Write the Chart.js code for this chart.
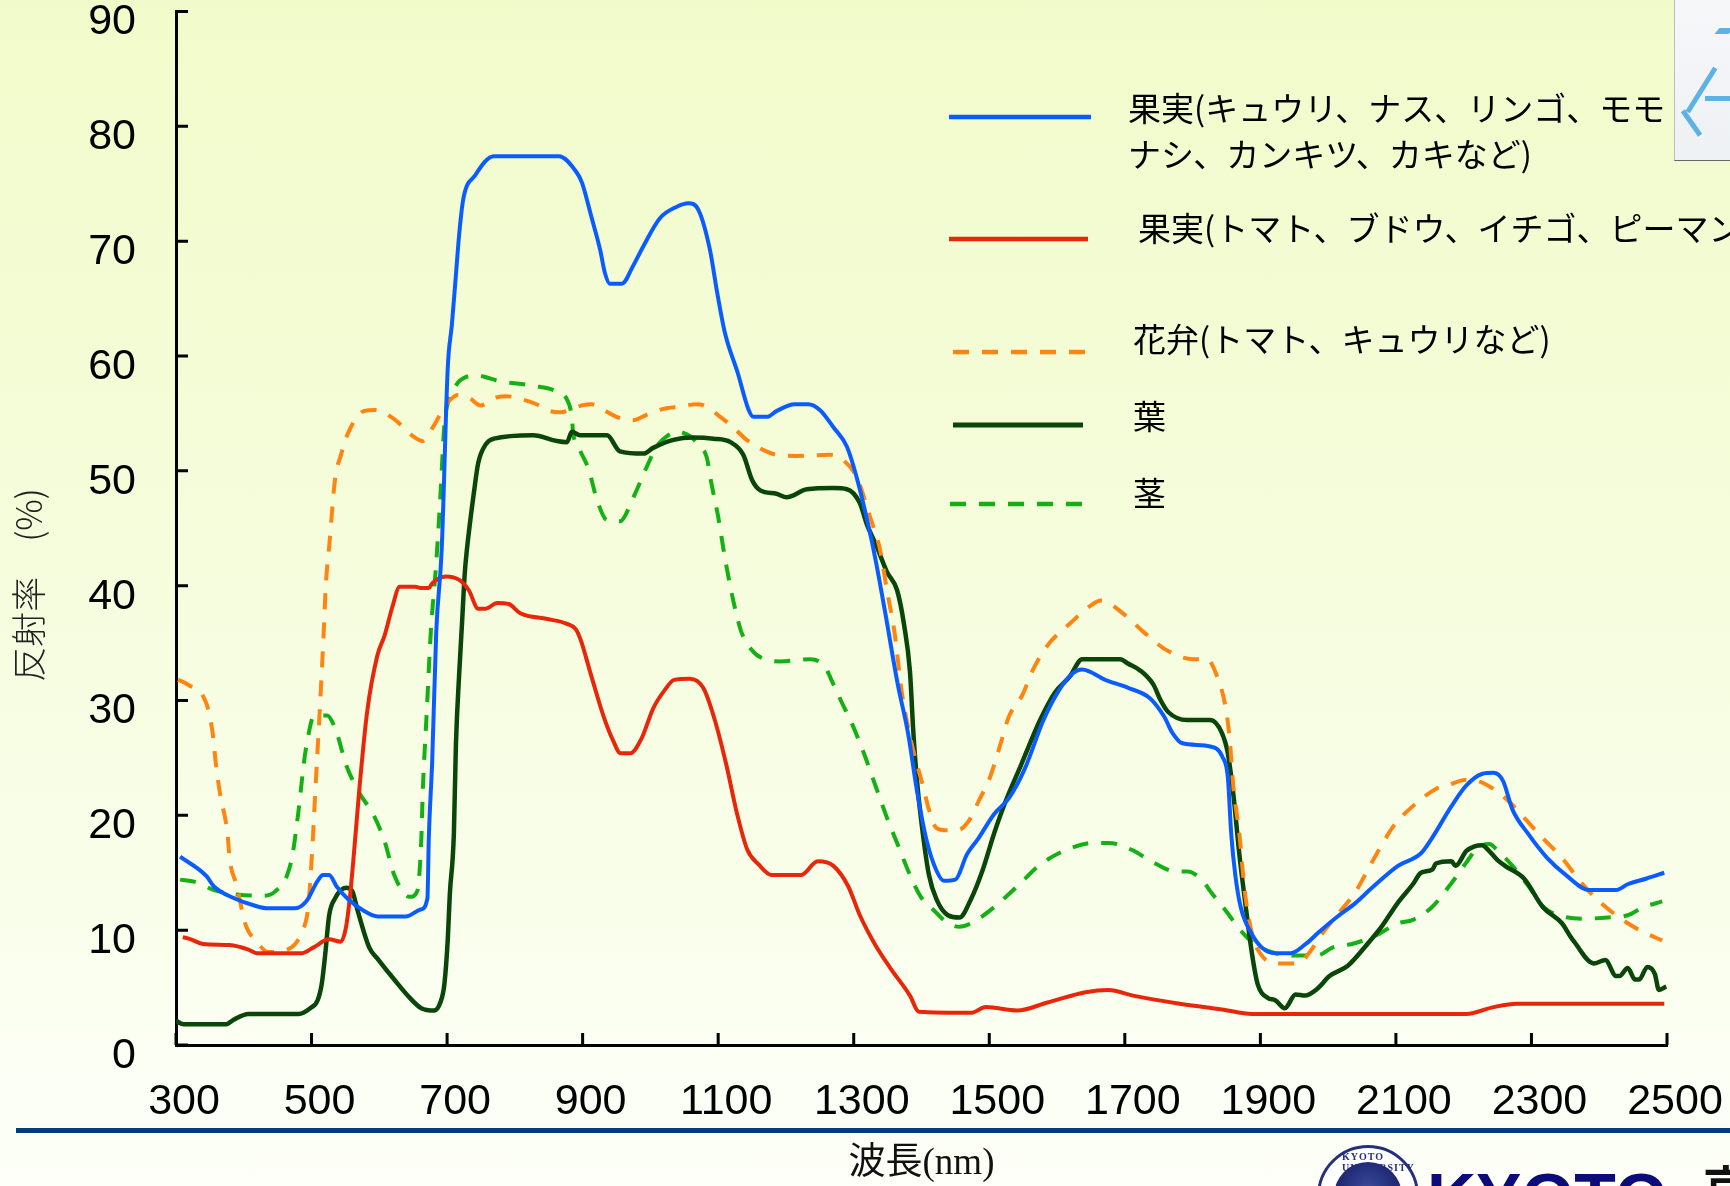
<!DOCTYPE html>
<html lang="ja">
<head>
<meta charset="utf-8">
<title>反射率</title>
<script src="https://cdn.jsdelivr.net/npm/chart.js@4.4.1/dist/chart.umd.min.js"></script>
<style>
html, body { margin: 0; padding: 0; }
body {
	width: 1730px; height: 1186px; overflow: hidden; position: relative;
	background: linear-gradient(#f1fbca 0%, #f5fcd9 40%, #f9feea 75%, #fcfff5 92%, #fdfff8 100%);
}
#chart { position: absolute; left: 0; top: 0; }
.rule { position: absolute; left: 16px; top: 1128px; width: 1714px; height: 5px; background: #0a3a7e; }
.photo {
	position: absolute; left: 1674px; top: 0; width: 56px; height: 160px;
	background: linear-gradient(#f6f7f9, #eef1f4); border-left: 1px solid #b9bec4; border-bottom: 1px solid #666;
	overflow: hidden;
}
.photo i { position: absolute; background: #5cb2e4; display: block; }
.seal {
	position: absolute; left: 1317px; top: 1145px; width: 96px; height: 96px; border-radius: 50%;
	border: 3px solid #24307a; background: #fff;
}
.seal::after {
	content: ""; position: absolute; left: 14px; top: 14px; right: 14px; bottom: 14px; border-radius: 50%;
	background: radial-gradient(circle at 50% 40%, #3a4a9a, #18206a 70%);
}
.seal span {
	position: absolute; left: 22px; top: 3px; font: bold 10px 'Liberation Serif'; color: #24307a; letter-spacing: 1px;
}
.brand { position: absolute; left: 1427px; top: 1163px; font: bold 68px/1 'Liberation Sans'; color: #0b0b7a; white-space: nowrap; }
.brand-jp { position: absolute; left: 1703px; top: 1161px; font: bold 46px/1 'Noto Sans CJK JP'; color: #111; white-space: nowrap; }
</style>
</head>
<body>
<canvas id="chart" width="1730" height="1186"></canvas>
<div class="rule"></div>
<div class="photo">
	<i style="left:42px;top:28px;width:14px;height:6px;transform:skewX(-40deg);"></i>
	<i style="left:24px;top:64px;width:5px;height:52px;transform:rotate(32deg);"></i>
	<i style="left:30px;top:96px;width:30px;height:5px;"></i>
	<i style="left:14px;top:108px;width:5px;height:30px;transform:rotate(-35deg);"></i>
</div>
<div class="seal"><span>KYOTO UNIVERSITY</span></div>
<div class="brand">KYOTO</div>
<div class="brand-jp">京都大学</div>
<script>
const xTicks = [300, 500, 700, 900, 1100, 1300, 1500, 1700, 1900, 2100, 2300, 2500];
const yTicks = [0, 10, 20, 30, 40, 50, 60, 70, 80, 90];

const seriesLabels = [
	["果実(キュウリ、ナス、リンゴ、モモ", "ナシ、カンキツ、カキなど)"],
	["果実(トマト、ブドウ、イチゴ、ピーマンなど)"],
	["花弁(トマト、キュウリなど)"],
	["葉"],
	["茎"]
];

// 果実(キュウリ、ナス…)
const fruitCucNm = [306, 345, 356, 385, 418, 436, 475, 492, 509, 517, 526, 537, 554, 577, 597, 639, 661, 671, 673, 678, 684, 692, 701, 707, 712, 718, 724, 741, 769, 865, 891, 899, 913, 926, 933, 940, 958, 974, 989, 1014, 1039, 1056, 1071, 1088, 1098, 1110, 1129, 1145, 1152, 1172, 1186, 1213, 1233, 1250, 1270, 1290, 1304, 1324, 1333, 1346, 1365, 1380, 1394, 1408, 1422, 1433, 1450, 1467, 1484, 1507, 1529, 1552, 1580, 1603, 1622, 1637, 1671, 1705, 1737, 1758, 1770, 1784, 1826, 1844, 1852, 1857, 1863, 1871, 1888, 1902, 1922, 1945, 1967, 1984, 2012, 2041, 2063, 2103, 2137, 2153, 2182, 2204, 2227, 2244, 2258, 2272, 2295, 2323, 2351, 2385, 2425, 2442, 2470, 2496];
const fruitCucVal = [16.4, 14.7, 13.8, 12.8, 12.1, 11.9, 11.9, 12.5, 14.3, 14.8, 14.8, 13.8, 12.7, 11.7, 11.2, 11.2, 11.8, 12.8, 18.0, 24.7, 36.0, 43.1, 59.0, 62.7, 66.3, 70.7, 73.7, 75.7, 77.4, 77.4, 76.0, 75.1, 72.1, 69.2, 67.2, 66.3, 66.3, 67.8, 69.5, 72.0, 73.0, 73.3, 72.7, 69.2, 65.7, 62.0, 58.5, 55.3, 54.7, 54.7, 55.2, 55.8, 55.8, 55.3, 53.8, 52.1, 49.5, 44.6, 42.0, 37.8, 31.4, 27.2, 21.9, 17.7, 15.2, 14.3, 14.4, 16.6, 18.0, 20.1, 21.5, 24.0, 28.3, 30.9, 32.3, 32.7, 31.8, 31.1, 30.2, 28.6, 27.2, 26.3, 26.0, 25.1, 23.3, 18.4, 14.8, 12.0, 9.6, 8.5, 8.0, 8.0, 8.8, 9.7, 11.1, 12.4, 13.6, 15.6, 16.7, 18.0, 20.8, 22.6, 23.6, 23.7, 23.0, 20.5, 18.4, 16.3, 14.8, 13.5, 13.5, 14.0, 14.5, 15.0];

// 果実(トマト、ブドウ…)
const fruitTomNm = [310, 322, 340, 379, 407, 419, 486, 503, 526, 543, 551, 557, 563, 571, 582, 597, 608, 619, 630, 653, 661, 673, 678, 698, 718, 732, 746, 757, 774, 791, 808, 848, 876, 890, 897, 912, 931, 945, 956, 970, 987, 1004, 1021, 1035, 1058, 1078, 1095, 1112, 1128, 1143, 1160, 1179, 1222, 1247, 1270, 1292, 1309, 1331, 1354, 1383, 1396, 1473, 1495, 1541, 1586, 1642, 1676, 1712, 1781, 1843, 1888, 2204, 2244, 2278, 2496];
const fruitTomVal = [9.4, 9.2, 8.8, 8.7, 8.3, 8.0, 8.0, 8.5, 9.2, 9.0, 10.3, 13.1, 17.0, 22.6, 29.0, 33.9, 35.7, 38.1, 39.9, 39.9, 39.8, 39.8, 40.2, 40.8, 40.5, 39.6, 38.0, 38.0, 38.5, 38.4, 37.6, 37.1, 36.7, 36.2, 35.3, 32.3, 28.6, 26.5, 25.4, 25.4, 26.7, 29.3, 30.9, 31.8, 31.9, 31.1, 28.3, 24.4, 20.1, 17.0, 15.7, 14.8, 14.8, 16.0, 15.6, 13.8, 11.3, 8.8, 6.7, 4.3, 2.9, 2.8, 3.3, 3.0, 3.7, 4.6, 4.8, 4.3, 3.6, 3.1, 2.7, 2.7, 3.3, 3.6, 3.6];

// 花弁
const petalNm = [303, 317, 345, 354, 359, 365, 376, 379, 390, 402, 419, 436, 464, 486, 495, 501, 506, 512, 518, 521, 526, 535, 543, 554, 577, 594, 622, 650, 664, 678, 699, 716, 734, 749, 773, 788, 812, 832, 852, 867, 881, 899, 913, 931, 950, 974, 995, 1019, 1044, 1068, 1083, 1103, 1122, 1142, 1167, 1186, 1216, 1265, 1285, 1304, 1324, 1339, 1349, 1360, 1371, 1386, 1402, 1411, 1422, 1439, 1453, 1473, 1484, 1501, 1516, 1529, 1549, 1563, 1586, 1619, 1648, 1665, 1699, 1727, 1764, 1801, 1821, 1838, 1849, 1855, 1860, 1869, 1877, 1888, 1902, 1922, 1956, 1973, 1990, 2013, 2041, 2058, 2075, 2097, 2125, 2159, 2176, 2204, 2221, 2244, 2267, 2289, 2317, 2345, 2374, 2402, 2442, 2470, 2493];
const petalVal = [31.8, 31.4, 29.7, 27.2, 24.4, 21.9, 18.4, 16.3, 13.8, 10.6, 9.0, 8.1, 8.3, 9.9, 12.0, 17.0, 22.6, 29.0, 36.0, 40.0, 43.4, 49.4, 51.3, 53.3, 55.2, 55.3, 54.5, 53.0, 52.6, 53.7, 55.8, 56.6, 56.3, 55.7, 56.4, 56.5, 56.2, 55.8, 55.2, 55.1, 55.3, 55.7, 55.8, 55.3, 54.7, 54.4, 54.9, 55.4, 55.6, 55.8, 55.6, 54.7, 53.8, 52.7, 51.8, 51.4, 51.3, 51.4, 50.9, 49.5, 46.0, 43.1, 39.6, 36.0, 30.7, 26.1, 22.6, 20.5, 18.9, 18.7, 18.7, 19.8, 21.2, 23.3, 26.1, 28.6, 30.5, 32.5, 34.8, 36.7, 38.2, 38.7, 37.5, 36.0, 34.3, 33.6, 33.6, 31.8, 29.3, 26.5, 22.6, 18.4, 13.4, 9.6, 7.8, 7.1, 7.1, 8.1, 9.6, 11.3, 13.4, 15.2, 17.0, 19.1, 20.8, 22.3, 22.6, 23.1, 23.0, 22.3, 21.2, 19.8, 18.0, 16.3, 14.1, 12.4, 10.6, 9.7, 9.1];

// 葉
const leafNm = [300, 311, 374, 385, 407, 481, 498, 509, 515, 520, 526, 534, 551, 560, 568, 585, 599, 622, 645, 662, 681, 690, 696, 701, 704, 710, 713, 718, 722, 726, 729, 740, 746, 757, 769, 827, 862, 877, 884, 896, 936, 955, 990, 1004, 1034, 1063, 1093, 1118, 1137, 1150, 1162, 1186, 1201, 1231, 1270, 1290, 1309, 1319, 1334, 1349, 1364, 1374, 1383, 1388, 1394, 1402, 1411, 1422, 1439, 1456, 1473, 1490, 1507, 1524, 1547, 1575, 1597, 1619, 1637, 1693, 1705, 1723, 1742, 1753, 1764, 1792, 1826, 1843, 1852, 1860, 1869, 1877, 1888, 1896, 1911, 1922, 1936, 1952, 1966, 1984, 2002, 2029, 2058, 2080, 2103, 2125, 2137, 2154, 2159, 2182, 2188, 2204, 2216, 2227, 2236, 2250, 2261, 2289, 2317, 2345, 2357, 2363, 2392, 2409, 2425, 2430, 2442, 2453, 2459, 2471, 2482, 2488, 2499];
const leafVal = [2.1, 1.8, 1.8, 2.2, 2.7, 2.7, 3.2, 3.9, 5.3, 7.8, 11.3, 12.7, 13.7, 13.4, 11.7, 8.5, 7.4, 5.7, 4.1, 3.2, 3.0, 3.7, 5.3, 9.2, 13.1, 18.4, 26.1, 32.5, 36.7, 41.0, 43.0, 48.3, 50.7, 52.3, 52.8, 53.1, 52.6, 52.5, 53.4, 53.1, 53.1, 51.7, 51.5, 52.0, 52.7, 52.9, 52.8, 52.5, 51.4, 49.2, 48.3, 48.0, 47.7, 48.4, 48.5, 48.4, 47.2, 45.4, 43.4, 41.2, 39.6, 36.7, 32.5, 27.2, 22.6, 18.4, 14.8, 12.7, 11.3, 11.1, 12.7, 15.2, 18.4, 21.2, 24.4, 28.3, 30.7, 32.1, 33.6, 33.6, 33.2, 32.6, 31.4, 30.0, 29.0, 28.3, 28.3, 27.2, 25.4, 21.9, 16.6, 12.7, 7.8, 5.3, 4.1, 3.9, 3.2, 4.4, 4.3, 4.9, 6.0, 6.9, 8.8, 10.4, 12.4, 14.0, 15.0, 15.3, 15.8, 16.0, 15.6, 16.9, 17.3, 17.4, 17.0, 16.1, 15.6, 14.5, 12.0, 10.6, 9.5, 9.0, 7.1, 7.4, 6.0, 6.0, 6.7, 5.7, 5.7, 6.8, 6.2, 4.8, 5.1];

// 茎
const stemNm = [306, 328, 356, 390, 430, 447, 464, 472, 481, 489, 495, 503, 523, 537, 551, 571, 591, 608, 622, 645, 656, 662, 664, 670, 676, 684, 690, 696, 707, 729, 743, 778, 827, 862, 877, 884, 886, 896, 909, 921, 936, 955, 975, 995, 1009, 1024, 1039, 1059, 1073, 1083, 1090, 1100, 1108, 1115, 1123, 1134, 1151, 1168, 1191, 1236, 1258, 1267, 1281, 1298, 1315, 1332, 1349, 1366, 1383, 1399, 1417, 1439, 1456, 1473, 1507, 1541, 1575, 1614, 1654, 1676, 1710, 1742, 1776, 1792, 1815, 1826, 1849, 1872, 1894, 1922, 1950, 1984, 2007, 2035, 2069, 2103, 2125, 2153, 2182, 2204, 2221, 2238, 2249, 2272, 2296, 2318, 2340, 2374, 2413, 2442, 2465, 2493];
const stemVal = [14.4, 14.2, 13.5, 13.1, 13.0, 13.4, 14.8, 16.6, 20.5, 24.7, 26.9, 28.6, 28.7, 27.2, 24.4, 21.9, 20.1, 17.7, 14.8, 12.9, 13.4, 18.0, 21.9, 29.0, 36.0, 42.0, 47.7, 54.0, 56.7, 58.2, 58.3, 57.8, 57.4, 56.9, 56.2, 54.7, 53.3, 51.8, 50.1, 47.5, 45.7, 45.6, 47.7, 50.4, 52.1, 53.0, 53.4, 53.0, 52.1, 51.2, 48.9, 46.0, 43.1, 40.8, 38.5, 36.0, 34.3, 33.6, 33.4, 33.6, 32.9, 31.8, 30.0, 27.9, 25.4, 22.6, 19.8, 17.3, 14.8, 12.9, 11.8, 10.6, 10.3, 10.6, 12.0, 13.8, 15.7, 17.0, 17.6, 17.6, 17.0, 15.9, 15.1, 15.1, 14.3, 13.4, 11.7, 9.9, 8.7, 8.0, 7.8, 7.8, 8.5, 8.8, 9.5, 10.6, 10.9, 12.0, 14.1, 15.9, 17.2, 17.5, 17.0, 15.6, 13.8, 12.0, 11.3, 11.0, 11.1, 11.3, 12.0, 12.5];

function points(nm, val) {
	return nm.map((x, i) => ({ x: x, y: val[i] }));
}

// ticks pointing into the plot, as in the original figure
const innerTicks = {
	id: "innerTicks",
	afterDraw(chart) {
		const ctx = chart.ctx;
		const xs = chart.scales.x, ys = chart.scales.y;
		const area = chart.chartArea;
		ctx.save();
		ctx.strokeStyle = "#000";
		ctx.lineWidth = 3;
		ctx.beginPath();
		xTicks.forEach(v => {
			const px = xs.getPixelForValue(v);
			ctx.moveTo(px, area.bottom);
			ctx.lineTo(px, area.bottom - 12);
		});
		yTicks.forEach(v => {
			const py = ys.getPixelForValue(v);
			ctx.moveTo(area.left, py);
			ctx.lineTo(area.left + 12, py);
		});
		ctx.stroke();
		ctx.restore();
	}
};

// legend on the right and rotated y title
const legendBox = {
	id: "legendBox",
	afterDraw(chart) {
		const ctx = chart.ctx;
		const rows = [
			{ x1: 949, x2: 1091, y: 117, tx: 1128, ty: [108, 154] },
			{ x1: 949, x2: 1088, y: 239, tx: 1138, ty: [228] },
			{ x1: 953, x2: 1091, y: 352, tx: 1133, ty: [339] },
			{ x1: 953, x2: 1083, y: 425, tx: 1133, ty: [416] },
			{ x1: 950, x2: 1088, y: 504, tx: 1133, ty: [493] }
		];
		ctx.save();
		chart.data.datasets.forEach((ds, i) => {
			const r = rows[i];
			ctx.strokeStyle = ds.borderColor;
			ctx.lineWidth = ds.borderWidth + 0.5;
			ctx.setLineDash(ds.borderDash || []);
			ctx.lineCap = "butt";
			ctx.beginPath();
			ctx.moveTo(r.x1, r.y);
			ctx.lineTo(r.x2, r.y);
			ctx.stroke();
			ctx.setLineDash([]);
			ctx.fillStyle = "#000";
			ctx.font = "33px 'Noto Sans CJK JP'";
			ctx.textBaseline = "middle";
			ctx.textAlign = "left";
			seriesLabels[i].forEach((line, k) => ctx.fillText(line, r.tx, r.ty[k]));
		});

		ctx.translate(29, 585);
		ctx.rotate(-Math.PI / 2);
		ctx.fillStyle = "#222";
		ctx.font = "300 35px 'Noto Sans CJK JP'";
		ctx.textAlign = "center";
		ctx.textBaseline = "middle";
		ctx.fillText("反射率\u3000(%)", 0, 0);
		ctx.restore();
	}
};

function draw() {
	const chart = document.getElementById("chart").getContext("2d");
	new Chart(chart, {
		type: "line",
		data: {
			datasets: [
				{ label: seriesLabels[0].join(""), data: points(fruitCucNm, fruitCucVal), borderColor: "#0a5cff", borderWidth: 4 },
				{ label: seriesLabels[1][0], data: points(fruitTomNm, fruitTomVal), borderColor: "#e8260a", borderWidth: 4 },
				{ label: seriesLabels[2][0], data: points(petalNm, petalVal), borderColor: "#ff8410", borderWidth: 4, borderDash: [16, 13] },
				{ label: seriesLabels[3][0], data: points(leafNm, leafVal), borderColor: "#0a460a", borderWidth: 4.5 },
				{ label: seriesLabels[4][0], data: points(stemNm, stemVal), borderColor: "#14b014", borderWidth: 4, borderDash: [16, 13] }
			]
		},
		options: {
			responsive: false,
			animation: false,
			devicePixelRatio: 1,
			layout: { padding: { left: 0, right: 63, top: 11.5, bottom: 0 } },
			elements: {
				point: { radius: 0 },
				line: { cubicInterpolationMode: "monotone", fill: false }
			},
			plugins: { legend: { display: false }, tooltip: { enabled: false } },
			scales: {
				x: {
					type: "linear",
					min: 300,
					max: 2500,
					afterBuildTicks: s => { s.ticks = xTicks.map(v => ({ value: v })); },
					afterFit: s => { s.height = 141; s.paddingLeft = 0; s.paddingRight = 0; },
					grid: { drawOnChartArea: false, drawTicks: false },
					border: { color: "#000", width: 3 },
					ticks: {
						color: "#000",
						font: { family: "'Liberation Sans'", size: 43 },
						padding: 31,
						labelOffset: 8,
						maxRotation: 0,
						autoSkip: false,
						callback: v => String(v)
					},
					title: {
						display: true,
						text: "波長(nm)",
						color: "#111",
						font: { family: "'Liberation Serif', 'Noto Sans CJK JP'", size: 37 },
						padding: { top: 0, bottom: 0 }
					}
				},
				y: {
					min: 0,
					max: 90,
					afterBuildTicks: s => { s.ticks = yTicks.map(v => ({ value: v })); },
					afterFit: s => { s.width = 176; s.paddingTop = 0; s.paddingBottom = 0; },
					grid: { drawOnChartArea: false, drawTicks: false },
					border: { color: "#000", width: 3 },
					ticks: {
						color: "#000",
						font: { family: "'Liberation Sans'", size: 43 },
						padding: 40,
						labelOffset: 11,
						callback: v => String(v)
					}
				}
			}
		},
		plugins: [innerTicks, legendBox]
	});
}

Promise.all([
	document.fonts.load("33px 'Noto Sans CJK JP'", "果実"),
	document.fonts.load("43px 'Liberation Sans'", "0123"),
	document.fonts.load("37px 'Liberation Serif'", "nm")
]).then(draw, draw);
</script>
</body>
</html>
